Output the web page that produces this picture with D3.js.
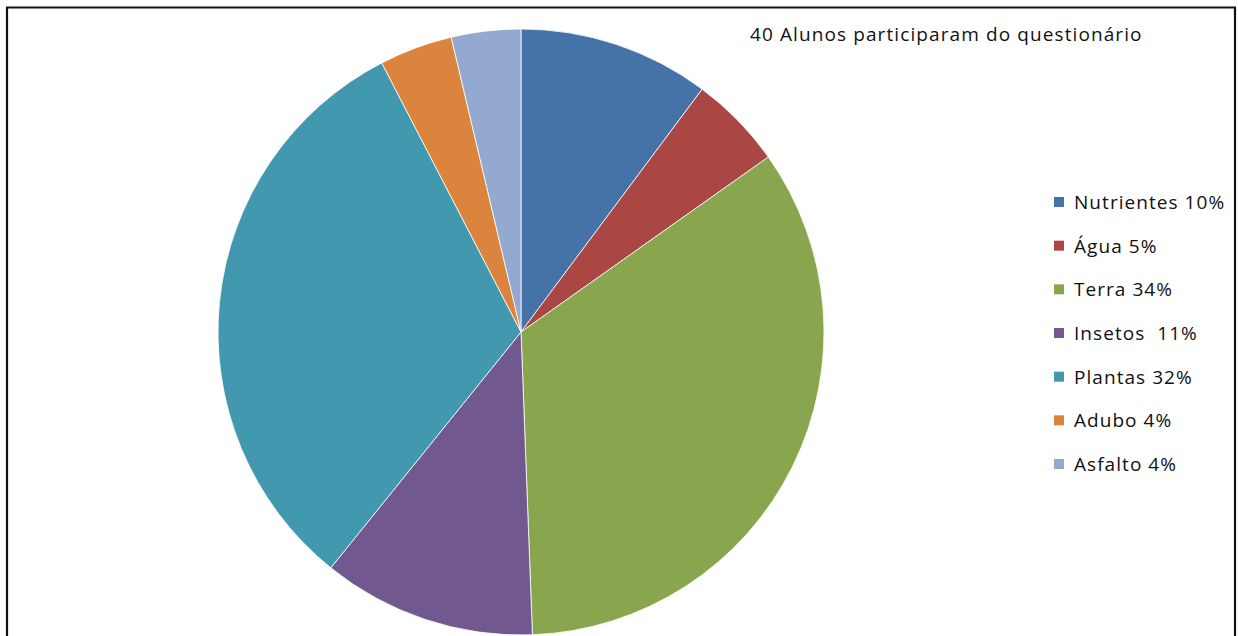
<!DOCTYPE html>
<html>
<head>
<meta charset="utf-8">
<script src="https://cdn.jsdelivr.net/npm/d3@7"></script>
<style>
  html, body { margin: 0; padding: 0; background: #fff; }
  svg { display: block; }
  text { font-family: "Open Sans", "Noto Sans", sans-serif; fill: #111; }
</style>
</head>
<body>
<svg id="chart" width="1238" height="636"></svg>
<script>
// Data
const categories = ["Nutrientes", "Água", "Terra", "Insetos", "Plantas", "Adubo", "Asfalto"];
const values = [10.2, 5.0, 34.2, 11.4, 31.6, 3.9, 3.7];
const legendLabels = ["Nutrientes 10%", "Água 5%", "Terra 34%", "Insetos  11%", "Plantas 32%", "Adubo 4%", "Asfalto 4%"];
const colors = ["#4572A7", "#AA4643", "#89A54E", "#71588F", "#4198AF", "#DB843D", "#93A9CF"];
const title = "40 Alunos participaram do questionário";

const svg = d3.select("#chart");
const W = 1238, H = 636;

// frame
svg.append("path")
  .attr("d", `M7,${H + 5} V7.5 H1235 V${H + 5}`)
  .attr("fill", "none")
  .attr("stroke", "#111")
  .attr("stroke-width", 2.2);

const cx = 521, cy = 332, r = 303;

const pie = d3.pie().sort(null).value(d => d.v);
const arc = d3.arc().innerRadius(0).outerRadius(r);
const data = categories.map((c, i) => ({ c, v: values[i], i }));

const g = svg.append("g").attr("transform", `translate(${cx},${cy})`);
g.selectAll("path.slice")
  .data(pie(data))
  .join("path")
  .attr("class", "slice")
  .attr("d", arc)
  .attr("fill", d => colors[d.data.i])
  .attr("stroke", "#fff")
  .attr("stroke-width", 0.8);

// title
svg.append("text")
  .attr("x", 750)
  .attr("y", 41)
  .attr("font-size", 19)
  .attr("letter-spacing", 1.1)
  .text(title);

// legend
const ly = d3.scalePoint().domain(d3.range(categories.length)).range([202, 464]);
const leg = svg.append("g");
const items = leg.selectAll("g.item")
  .data(legendLabels)
  .join("g")
  .attr("class", "item")
  .attr("transform", (d, i) => `translate(0,${ly(i)})`);
items.append("rect")
  .attr("x", 1054).attr("y", -5)
  .attr("width", 10).attr("height", 10)
  .attr("fill", (d, i) => colors[i]);
items.append("text")
  .attr("x", 1074)
  .attr("y", 7)
  .attr("font-size", 19)
  .attr("letter-spacing", 1.05)
  .style("white-space", "pre")
  .attr("xml:space", "preserve")
  .text(d => d);
</script>
</body>
</html>
